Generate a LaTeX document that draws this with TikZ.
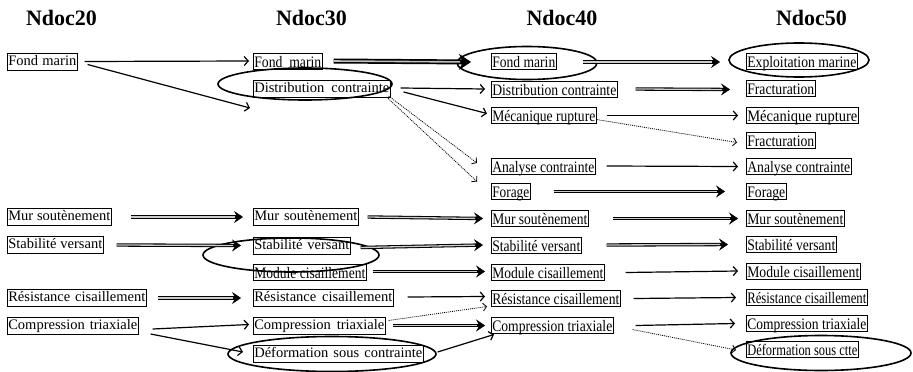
\documentclass[tikz,border=0pt]{standalone}
\usepackage{fontspec}
\setmainfont{Liberation Serif}
\usetikzlibrary{arrows.meta,calc}
\newcommand{\SW}[2]{\makebox[#1pt][s]{#2}}
\newcommand{\RW}[2]{\resizebox{#1pt}{\height}{#2}}
\tikzset{
 bx/.style={draw, line width=0.6pt, inner sep=1pt, anchor=west, font=\fontsize{14.5}{16}\selectfont, text height=11pt, text depth=4pt},
 bxu/.style={bx, font=\fontsize{16}{17}\selectfont, text height=13pt, text depth=1pt},
 ttl/.style={font=\fontsize{22}{24}\selectfont\bfseries, anchor=base},
 sgl/.style={line width=1.2pt, -{Straight Barb[length=4pt,width=9pt,line width=1.2pt]}},
 dbl/.style={line width=3.4pt, -{Stealth[length=9pt,width=12pt,inset=3.5pt,line width=0.5pt]},
   postaction={draw=gray!40, line width=1.3pt, -, shorten >=8pt}},
 thk/.style={line width=5pt, -{Stealth[length=12pt,width=16pt,inset=4pt,line width=0.5pt]},
   postaction={draw=gray!50, line width=1.6pt, -, shorten >=11pt}},
 dotarr/.style={line width=0.8pt, dash pattern=on 1pt off 1pt, -{Straight Barb[length=3.5pt,width=8pt,line width=0.8pt]}},
 ell/.style={line width=1.6pt},
}
\begin{document}
\begin{tikzpicture}[x=1pt,y=-1pt]
\useasboundingbox (0,0) rectangle (913,372);
% titles
\node[ttl] (t20) at (61.5,25) {Ndoc20};
\node[ttl] (t30) at (311.5,25) {Ndoc30};
\node[ttl] (t40) at (562,25) {Ndoc40};
\node[ttl] (t50) at (811.5,25) {Ndoc50};
% column 20
\node[bx] (f20) at (7,61.5) {\SW{68}{Fond marin}};
\node[bx] (m20) at (7,217) {\SW{102}{Mur soutènement}};
\node[bx] (s20) at (7,245) {\SW{94}{Stabilité versant}};
\node[bx] (r20) at (7,298) {\SW{137}{Résistance cisaillement}};
\node[bx] (c20) at (7,326) {\SW{129}{Compression triaxiale}};
% column 30
\node[bxu] (f30) at (253,61) {\RW{67}{Fond\ \ marin}};
\node[bx] (dc30) at (253,89) {\SW{135}{Distribution contrainte}};
\node[bx] (m30) at (253,217) {\SW{103}{Mur soutènement}};
\node[bx] (s30) at (253,245.5) {\SW{95}{Stabilité versant}};
\node[bxu] (mo30) at (253,272.5) {\RW{111}{Module cisaillement}};
\node[bx] (r30) at (253,298) {\SW{138}{Résistance cisaillement}};
\node[bx] (c30) at (253,325.5) {\SW{130}{Compression triaxiale}};
\node[bx] (d30) at (253,354) {\SW{168}{Déformation sous contrainte}};
% column 40
\node[bxu] (f40) at (491,61) {\RW{63}{Fond marin}};
\node[bxu] (dc40) at (491,89) {\RW{124}{Distribution contrainte}};
\node[bxu] (mr40) at (491,115.5) {\RW{103}{Mécanique rupture}};
\node[bxu] (ac40) at (491,166) {\RW{102}{Analyse contrainte}};
\node[bxu] (fo40) at (491,191.5) {\RW{37}{Forage}};
\node[bxu] (m40) at (491,218.5) {\RW{95}{Mur soutènement}};
\node[bxu] (s40) at (491,245) {\RW{88}{Stabilité versant}};
\node[bxu] (mo40) at (491,272.5) {\RW{111}{Module cisaillement}};
\node[bxu] (r40) at (491,298.5) {\RW{127}{Résistance cisaillement}};
\node[bxu] (c40) at (491,325.5) {\RW{120}{Compression triaxiale}};
% column 50
\node[bxu] (em50) at (746,61) {\RW{109}{Exploitation marine}};
\node[bxu] (fr50) at (746,88.5) {\RW{67}{Fracturation}};
\node[bxu] (mr50) at (746,115.5) {\RW{110}{Mécanique rupture}};
\node[bxu] (fr2) at (746,140.5) {\RW{67}{Fracturation}};
\node[bxu] (ac50) at (746,166.5) {\RW{103}{Analyse contrainte}};
\node[bxu] (fo50) at (746,191.5) {\RW{38}{Forage}};
\node[bxu] (m50) at (746,218.5) {\RW{96}{Mur soutènement}};
\node[bxu] (s50) at (746,244.5) {\RW{88}{Stabilité versant}};
\node[bxu] (mo50) at (746,271) {\RW{112}{Module cisaillement}};
\node[bxu] (r50) at (746,297.5) {\RW{119}{Résistance cisaillement}};
\node[bxu] (c50) at (746,323.5) {\RW{119}{Compression triaxiale}};
\node[bxu] (d50) at (746,349) {\RW{110}{Déformation sous ctte}};
\coordinate (c1) at (250,108);
% ellipses
\draw[ell] (305,84) ellipse [x radius=87, y radius=16];
\draw[ell] (527,63) ellipse [x radius=70, y radius=16.5];
\draw[ell] (799,60) ellipse [x radius=70, y radius=17];
\draw[ell] (291,255) ellipse [x radius=88, y radius=17];
\draw[ell] (332,354) ellipse [x radius=104, y radius=17.5];
\draw[ell] (821,353) ellipse [x radius=90, y radius=17.5];
% 20 -> 30
\draw[sgl] ($(f20.east)+(7,0)$) -- ($(f30.west)+(-4,0)$);
\draw[sgl] ($(f20.east)+(10,3)$) -- (c1);
\draw[dbl] ($(m20.east)+(19,0)$) -- ($(m30.west)+(-10,0)$);
\draw[dbl] ($(s20.east)+(13,0)$) -- ($(s30.west)+(-12,0)$);
\draw[dbl] ($(r20.east)+(11,0)$) -- ($(r30.west)+(-12,0)$);
\draw[sgl] ($(c20.east)+(14,3)$) -- ($(c30.west)+(-4,-1)$);
\draw[sgl] ($(c20.east)+(12,8)$) -- ($(d30.west)+(-10,-2)$);
% 30 -> 40
\draw[thk] ($(f30.east)+(11,0)$) -- ($(f40.west)+(-20,1)$);
\draw[sgl] ($(dc30.east)+(10,-1)$) -- ($(dc40.west)+(-6,0)$);
\draw[sgl] ($(dc30.east)+(13,3)$) -- ($(mr40.west)+(-4,-2)$);
\draw[dotarr] ($(dc30.east)+(-2,7)$) -- ($(ac40.west)+(-14,-3)$);
\draw[dotarr] ($(dc30.east)+(-4,8)$) -- ($(fo40.west)+(-14,-10)$);
\draw[dbl] ($(m30.east)+(9,0)$) -- ($(m40.west)+(-8,0)$);
\draw[dbl] ($(s30.east)+(10,2)$) -- ($(s40.west)+(-8,0)$);
\draw[dbl] ($(mo30.east)+(6,-1)$) -- ($(mo40.west)+(-6,-1)$);
\draw[sgl] ($(r30.east)+(14,-1)$) -- ($(r40.west)+(-6,-2)$);
\draw[dotarr] ($(c30.east)+(3,-5)$) -- ($(r40.west)+(-4,8)$);
\draw[dbl] ($(c30.east)+(7,0)$) -- ($(c40.west)+(-6,0)$);
\draw[sgl] ($(d30.east)+(14,-2)$) -- ($(c40.west)+(3,9)$);
% 40 -> 50
\draw[dbl] ($(f40.east)+(26,1)$) -- ($(em50.west)+(-26,1)$);
\draw[dbl] ($(dc40.east)+(18,0)$) -- ($(fr50.west)+(-16,1)$);
\draw[sgl] ($(mr40.east)+(10,0)$) -- ($(mr50.west)+(-8,0)$);
\draw[dotarr] ($(mr40.east)+(0,4)$) -- ($(fr2.west)+(-9,2)$);
\draw[sgl] ($(ac40.east)+(11,0)$) -- ($(ac50.west)+(-8,0)$);
\draw[dbl] ($(fo40.east)+(23,0)$) -- ($(fo50.west)+(-21,0)$);
\draw[dbl] ($(m40.east)+(24,0)$) -- ($(m50.west)+(-8,0)$);
\draw[dbl] ($(s40.east)+(25,0)$) -- ($(s50.west)+(-18,0)$);
\draw[sgl] ($(mo40.east)+(21,0)$) -- ($(mo50.west)+(-8,0)$);
\draw[sgl] ($(r40.east)+(13,0)$) -- ($(r50.west)+(-10,0)$);
\draw[sgl] ($(c40.east)+(22,0)$) -- ($(c50.west)+(-11,0)$);
\draw[dotarr] ($(c40.east)+(19,4)$) -- ($(d50.west)+(-10,1)$);
\end{tikzpicture}
\end{document}
